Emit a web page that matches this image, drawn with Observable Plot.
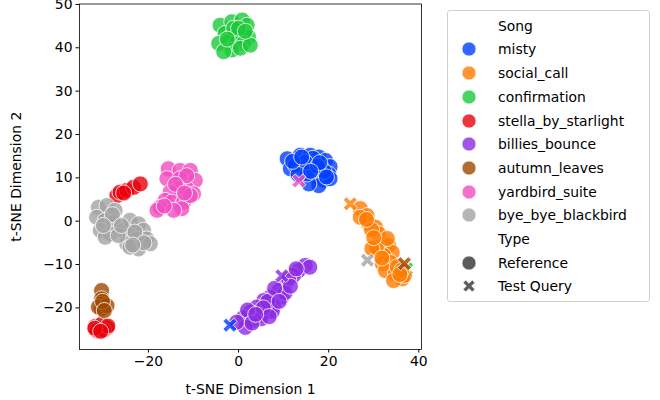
<!DOCTYPE html>
<html>
<head>
<meta charset="utf-8">
<script src="https://cdn.jsdelivr.net/npm/d3@7"></script>
<script src="https://cdn.jsdelivr.net/npm/@observablehq/plot@0.6"></script>
<style>
  body { margin: 0; background: white; font-family: "DejaVu Sans", sans-serif; }
  #wrap { position: relative; width: 660px; height: 400px; }
  #legend { position: absolute; left: 447px; top: 10px; width: 201px; height: 290px;
    border: 1px solid #d0d0d0; border-radius: 3px; background: white; font-size: 13.9px; color: #000; }
  .row { position: absolute; left: 0; height: 18px; line-height: 18px; white-space: nowrap; }
  .row span { position: absolute; left: 50px; top: 0; }
  .row svg { position: absolute; left: 12px; top: 0; }
</style>
</head>
<body>
<div id="wrap"><div id="chart"></div><div id="legend"></div></div>
<script>
const songs = ["misty","social_call","confirmation","stella_by_starlight","billies_bounce","autumn_leaves","yardbird_suite","bye_bye_blackbird"];
const palette = ["#023eff","#ff7c00","#1ac938","#e8000b","#8b2be2","#9f4800","#f14cc1","#a3a3a3"];
const xTicks = [-20, 0, 20, 40];
const yTicks = [-20, -10, 0, 10, 20, 30, 40, 50];

const misty = [[10.8,14.4],[13.7,15.2],[15.9,15.2],[17.8,14.8],[19.3,14.0],[20.3,12.6],[11.5,12.1],[14.4,12.1],[16.3,13.2],[18.5,12.1],[20.0,10.9],[17.0,10.2],[18.9,9.4],[17.8,8.2],[15.6,8.6],[20.3,9.8],[12.6,12.9],[15.2,10.9],[16.5,14.5],[14.8,13.6],[19.0,11.5],[17.5,12.7],[13.2,10.8],[12.0,13.8],[18.0,13.5],[16.0,11.5],[19.5,10.2],[14.0,14.8]];
const social_call = [[27.0,2.9],[28.5,1.3],[28.9,-0.6],[30.4,-1.4],[31.1,-2.9],[27.0,0.9],[31.9,-5.2],[33.3,-5.6],[31.1,-6.4],[34.1,-7.2],[32.2,-7.9],[31.9,-9.8],[33.7,-9.5],[32.6,-11.4],[34.8,-12.1],[36.3,-13.3],[36.8,-12.5],[34.4,-13.7],[29.5,-2.0],[28.4,0.4],[30.6,-6.0],[35.2,-10.5],[33.0,-4.0],[36.2,-11.3],[29.6,-6.3],[31.8,-8.5],[35.8,-12.3],[30.0,-3.8]];
const confirmation = [[-4.1,45.2],[-1.5,46.0],[0.8,46.4],[1.9,45.2],[1.1,43.3],[2.2,42.5],[-3.0,43.3],[-1.1,43.3],[-4.4,41.0],[-2.2,41.4],[-0.4,41.4],[1.1,41.0],[-1.5,39.5],[-3.3,39.1],[0.4,39.9],[2.6,40.6],[-1.1,44.5],[0.0,44.5],[-2.5,42.0],[1.5,43.8]];
const stella_by_starlight = [[-27.0,5.9],[-26.3,6.7],[-24.8,7.1],[-23.3,7.8],[-21.8,8.6],[-25.5,6.5],[-31.8,-24.3],[-30.4,-23.8],[-29.2,-24.6],[-31.5,-25.2],[-30.0,-25.1],[-29.0,-24.2],[-31.9,-24.7],[-30.6,-25.4]];
const billies_bounce = [[14.8,-10.2],[13.3,-11.4],[12.2,-12.5],[10.4,-14.4],[8.9,-16.0],[9.6,-17.5],[7.0,-17.5],[5.6,-18.3],[4.1,-19.8],[6.3,-20.6],[2.6,-21.0],[1.1,-22.2],[3.3,-22.9],[1.5,-24.5],[-0.4,-23.3],[4.8,-21.8],[7.8,-19.5],[7.5,-20.8],[11.1,-13.3],[10.3,-16.5],[15.8,-10.6],[6.5,-18.5],[2.0,-20.5],[5.0,-22.5],[8.0,-15.5],[3.0,-23.5],[5.5,-20.0],[9.0,-18.5],[11.5,-15.0],[6.8,-22.0],[3.8,-21.5],[12.8,-11.0]];
const autumn_leaves = [[-30.4,-16.0],[-30.4,-17.9],[-30.4,-19.1],[-30.4,-20.2],[-31.1,-19.8],[-29.2,-19.5],[-30.2,-18.5],[-29.8,-20.6]];
const yardbird_suite = [[-15.6,12.1],[-13.0,11.7],[-10.7,11.7],[-9.6,9.4],[-15.9,9.8],[-13.0,9.8],[-11.5,7.5],[-10.0,6.3],[-13.3,7.5],[-15.2,6.7],[-16.3,4.8],[-14.8,4.4],[-17.4,3.2],[-18.1,2.5],[-12.2,4.4],[-12.6,2.9],[-10.7,5.9],[-14.4,2.5],[-11.5,10.5],[-14.0,8.5],[-16.5,3.5],[-12.0,6.5]];
const bye_bye_blackbird = [[-31.1,3.2],[-29.2,3.6],[-27.4,2.5],[-31.5,0.9],[-29.6,0.2],[-27.8,-0.2],[-30.7,-2.1],[-28.5,-2.9],[-29.6,-3.7],[-25.6,-2.1],[-24.1,0.2],[-22.2,-0.6],[-21.1,-2.1],[-24.1,-3.3],[-22.6,-4.1],[-20.4,-4.1],[-24.8,-5.2],[-22.2,-6.4],[-24.1,-6.0],[-19.6,-5.2],[-26.7,-3.3],[-28.0,1.5],[-26.0,-1.0],[-23.0,-2.5],[-21.0,-5.0],[-23.5,-5.5],[-30.0,-1.0]];

// test queries: song, x, y
const querySongs = ["confirmation","misty","social_call","billies_bounce","yardbird_suite","bye_bye_blackbird","autumn_leaves"];
const queryX = [37.3, -1.9, 24.8, 9.6, 13.4, 28.6, 36.8];
const queryY = [-11.0, -24.0, 4.0, -12.6, 9.3, -9.0, -9.8];

const refLists = [misty, social_call, confirmation, stella_by_starlight, billies_bounce, autumn_leaves, yardbird_suite, bye_bye_blackbird];
const refs = songs.flatMap((s, i) => refLists[i].map(([x, y]) => ({song: s, x, y})));
const queries = querySongs.map((s, i) => ({song: s, x: queryX[i], y: queryY[i]}));
const hiddenQueries = queries.slice(0, 1);
const topQueries = queries.slice(1);

const xSymbol = {
  draw(ctx, size) {
    const r = Math.sqrt(size / Math.PI), e = r, q = r * 0.45;
    ctx.moveTo(0, -q); ctx.lineTo(e - q, -e); ctx.lineTo(e, -e + q); ctx.lineTo(q, 0);
    ctx.lineTo(e, e - q); ctx.lineTo(e - q, e); ctx.lineTo(0, q); ctx.lineTo(-e + q, e);
    ctx.lineTo(-e, e - q); ctx.lineTo(-q, 0); ctx.lineTo(-e, -e + q); ctx.lineTo(-e + q, -e);
    ctx.closePath();
  }
};

const dotOpts = {x: "x", y: "y", fill: "song", stroke: "white", strokeWidth: 1, fillOpacity: 0.8, strokeOpacity: 0.8};

const chart = Plot.plot({
  width: 440, height: 400,
  marginLeft: 79, marginRight: 19, marginTop: 3.5, marginBottom: 51,
  style: {fontFamily: "DejaVu Sans", fontSize: "13.9px", color: "black", background: "white"},
  x: {domain: [-35.3, 40.6]},
  y: {domain: [-29.6, 50.1]},
  color: {domain: songs, range: palette},
  marks: [
    Plot.dot(hiddenQueries, {...dotOpts, symbol: xSymbol, r: 7}),
    Plot.dot(refs, {...dotOpts, r: 8}),
    Plot.dot(topQueries, {...dotOpts, symbol: xSymbol, r: 7}),
    Plot.axisX({ticks: xTicks, tickSize: 3.5, tickPadding: 3.5, label: "t-SNE Dimension 1", labelAnchor: "center", labelArrow: "none", labelOffset: 44}),
    Plot.axisY({ticks: yTicks, tickSize: 3.5, tickPadding: 3.5, label: "t-SNE Dimension 2", labelAnchor: "center", labelArrow: "none", labelOffset: 68}),
    Plot.frame({stroke: "black", strokeWidth: 0.8})
  ]
});
document.getElementById("chart").appendChild(chart);

// legend
const legend = document.getElementById("legend");
const rowY0 = 14.7, rowStep = 23.7;
const entries = [{title: "Song"}]
  .concat(songs.map((s, i) => ({label: s, color: palette[i], shape: "circle"})))
  .concat([{title: "Type"}, {label: "Reference", color: "#333333", shape: "circle"}, {label: "Test Query", color: "#333333", shape: "x"}]);
entries.forEach((e, i) => {
  const row = document.createElement("div");
  row.className = "row";
  row.style.top = (rowY0 + i * rowStep - 9) + "px";
  row.style.width = "100%";
  let svg = "";
  if (e.shape === "circle") {
    svg = `<svg width="18" height="18"><circle cx="9" cy="9" r="7" fill="${e.color}" fill-opacity="0.8" stroke="white" stroke-opacity="0.8" stroke-width="0.8"/></svg>`;
  } else if (e.shape === "x") {
    const p = d3.path(); xSymbol.draw(p, 6 * 6 * Math.PI);
    svg = `<svg width="18" height="18"><path transform="translate(9,9)" d="${p}" fill="${e.color}" fill-opacity="0.8" stroke="white" stroke-width="0.8"/></svg>`;
  }
  row.innerHTML = svg + `<span>${e.title || e.label}</span>`;
  legend.appendChild(row);
});
</script>
</body>
</html>
